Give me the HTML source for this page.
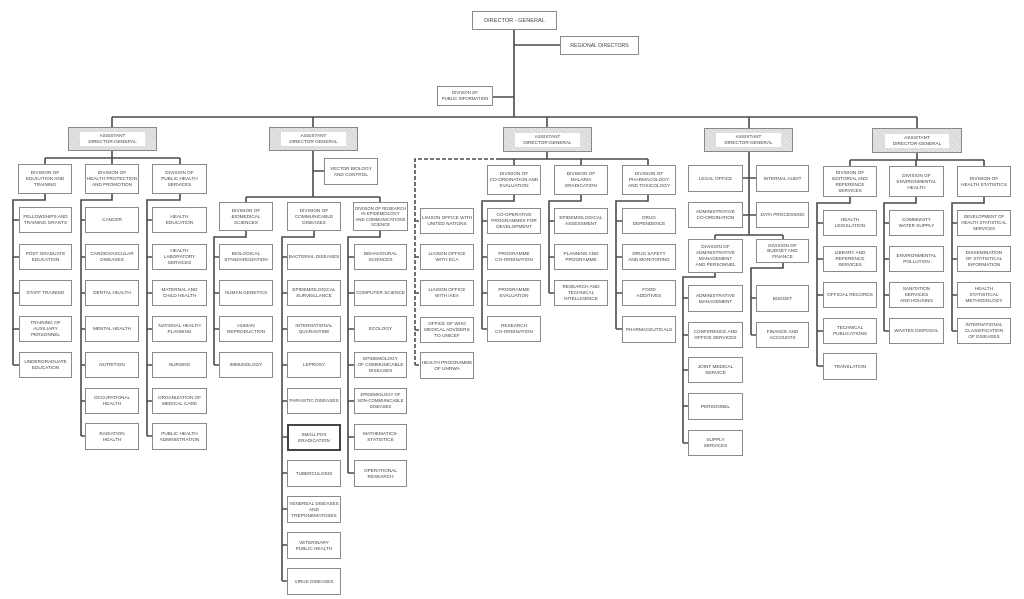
<!DOCTYPE html>
<html><head><meta charset="utf-8"><style>
html,body{margin:0;padding:0;background:#fff;width:1024px;height:599px;overflow:hidden;position:relative;font-family:"Liberation Sans",sans-serif;}
svg{position:absolute;left:0;top:0}
.b{position:absolute;box-sizing:border-box;border:1px solid #8a8a8a;background:#fff;display:flex;align-items:center;justify-content:center;text-align:center;font-size:4.7px;line-height:6px;color:#444;text-transform:uppercase;white-space:nowrap;padding:0}
.a{position:absolute;box-sizing:border-box;border:1px solid #888;display:flex;align-items:center;justify-content:center;background:repeating-linear-gradient(45deg,#cfcfcf 0 1px,#eeeeee 1px 2px)}
.a span{background:#fff;font-size:4.7px;line-height:6px;color:#444;text-align:center;padding:1px 8px;white-space:nowrap}
.k{border:2.5px solid #444}
</style></head><body>
<svg width="1024" height="599" fill="none" stroke="#4a4a4a" stroke-width="1.6">
<path d="M514 30V117M514 45H560M493 97H514M112 117H917"/>
<path d="M112 117V127M112 151V158M45 158H180M45 158V164M112 158V164M180 158V164"/>
<path d="M45 194V200H13V365M13 220H19M13 257H19M13 293H19M13 329H19M13 365H19"/>
<path d="M112 194V200H81V436M81 220H85M81 257H85M81 293H85M81 329H85M81 365H85M81 401H85M81 436H85"/>
<path d="M180 194V200H147V436M147 220H152M147 257H152M147 293H152M147 329H152M147 365H152M147 401H152M147 436H152"/>
<path d="M313 117V127M313 151V197M313 171H324M246 197H380M246 197V202M380 197V202"/>
<path d="M246 231V237H214V365M214 257H219M214 293H219M214 329H219M214 365H219"/>
<path d="M314 231V237H282V581M282 257H287M282 293H287M282 329H287M282 365H287M282 401H287M282 437H287M282 473H287M282 509H287M282 545H287M282 581H287"/>
<path d="M380 231V237H348V473M348 257H354M348 293H354M348 329H354M348 365H354M348 401H354M348 437H354M348 473H354"/>
<path d="M547 117V127M547 152V159M500 159H648M514 159V165M581 159V165M648 159V165"/>
<path stroke-dasharray="4,2" d="M500 159H415V365M415 221H420M415 257H420M415 293H420M415 330H420M415 365H420"/>
<path d="M514 195V201H482V329M482 221H487M482 257H487M482 293H487M482 329H487"/>
<path d="M581 195V201H549V293M549 221H554M549 257H554M549 293H554"/>
<path d="M648 195V201H616V329M616 221H622M616 257H622M616 293H622M616 329H622"/>
<path d="M749 117V128M749 152V235M743 178H756M743 215H756M715 235H783M715 235V239M783 235V239"/>
<path d="M715 273V277H683V443M683 298H688M683 335H688M683 370H688M683 406H688M683 443H688"/>
<path d="M783 263V268H751V335M751 298H756M751 335H756"/>
<path d="M917 117V128M917 153V160M850 160H984M850 160V166M916 160V166M984 160V166"/>
<path d="M850 197V203H817V366M817 223H823M817 259H823M817 295H823M817 331H823M817 366H823"/>
<path d="M916 197V203H884V331M884 223H889M884 259H889M884 295H889M884 331H889"/>
<path d="M984 197V203H952V331M952 223H957M952 259H957M952 295H957M952 331H957"/>
</svg>

<div class="b" style="left:472px;top:11px;width:85px;height:19px;font-size:5.6px">DIRECTOR - GENERAL</div>
<div class="b" style="left:560px;top:36px;width:79px;height:19px;font-size:5.2px">REGIONAL DIRECTORS</div>
<div class="b" style="left:437px;top:86px;width:56px;height:20px;font-size:4.3px">DIVISION OF<br>PUBLIC INFORMATION</div>

<div class="a" style="left:68px;top:127px;width:89px;height:24px"><span>ASSISTANT<br>DIRECTOR-GENERAL</span></div>
<div class="a" style="left:269px;top:127px;width:89px;height:24px"><span>ASSISTANT<br>DIRECTOR-GENERAL</span></div>
<div class="a" style="left:503px;top:127px;width:89px;height:25px"><span>ASSISTANT<br>DIRECTOR-GENERAL</span></div>
<div class="a" style="left:704px;top:128px;width:89px;height:24px"><span>ASSISTANT<br>DIRECTOR-GENERAL</span></div>
<div class="a" style="left:872px;top:128px;width:90px;height:25px"><span>ASSISTANT<br>DIRECTOR-GENERAL</span></div>

<div class="b" style="left:18px;top:164px;width:54px;height:30px">DIVISION OF<br>EDUCATION AND<br>TRAINING</div>
<div class="b" style="left:85px;top:164px;width:54px;height:30px">DIVISION OF<br>HEALTH PROTECTION<br>AND PROMOTION</div>
<div class="b" style="left:152px;top:164px;width:55px;height:30px">DIVISION OF<br>PUBLIC HEALTH<br>SERVICES</div>
<div class="b" style="left:19px;top:207px;width:53px;height:26px">FELLOWSHIPS AND<br>TRAINING GRANTS</div>
<div class="b" style="left:19px;top:244px;width:53px;height:26px">POST GRADUATE<br>EDUCATION</div>
<div class="b" style="left:19px;top:280px;width:53px;height:26px">STAFF TRAINING</div>
<div class="b" style="left:19px;top:316px;width:53px;height:26px">TRAINING OF<br>AUXILIARY<br>PERSONNEL</div>
<div class="b" style="left:19px;top:352px;width:53px;height:26px">UNDERGRADUATE<br>EDUCATION</div>
<div class="b" style="left:85px;top:207px;width:54px;height:26px">CANCER</div>
<div class="b" style="left:85px;top:244px;width:54px;height:26px">CARDIOVASCULAR<br>DISEASES</div>
<div class="b" style="left:85px;top:280px;width:54px;height:26px">DENTAL HEALTH</div>
<div class="b" style="left:85px;top:316px;width:54px;height:26px">MENTAL HEALTH</div>
<div class="b" style="left:85px;top:352px;width:54px;height:26px">NUTRITION</div>
<div class="b" style="left:85px;top:388px;width:54px;height:26px">OCCUPATIONAL<br>HEALTH</div>
<div class="b" style="left:85px;top:423px;width:54px;height:27px">RADIATION<br>HEALTH</div>
<div class="b" style="left:152px;top:207px;width:55px;height:26px">HEALTH<br>EDUCATION</div>
<div class="b" style="left:152px;top:244px;width:55px;height:26px">HEALTH<br>LABORATORY<br>SERVICES</div>
<div class="b" style="left:152px;top:280px;width:55px;height:26px">MATERNAL AND<br>CHILD HEALTH</div>
<div class="b" style="left:152px;top:316px;width:55px;height:26px">NATIONAL HEALTH<br>PLANNING</div>
<div class="b" style="left:152px;top:352px;width:55px;height:26px">NURSING</div>
<div class="b" style="left:152px;top:388px;width:55px;height:26px">ORGANIZATION OF<br>MEDICAL CARE</div>
<div class="b" style="left:152px;top:423px;width:55px;height:27px">PUBLIC HEALTH<br>ADMINISTRATION</div>

<div class="b" style="left:324px;top:158px;width:54px;height:27px">VECTOR BIOLOGY<br>AND CONTROL</div>
<div class="b" style="left:219px;top:202px;width:54px;height:29px">DIVISION OF<br>BIOMEDICAL<br>SCIENCES</div>
<div class="b" style="left:287px;top:202px;width:54px;height:29px">DIVISION OF<br>COMMUNICABLE<br>DISEASES</div>
<div class="b" style="left:353px;top:202px;width:55px;height:29px;font-size:4.3px;line-height:5.3px">DIVISION OF RESEARCH<br>IN EPIDEMIOLOGY<br>AND COMMUNICATIONS<br>SCIENCE</div>
<div class="b" style="left:219px;top:244px;width:54px;height:26px">BIOLOGICAL<br>STANDARDIZATION</div>
<div class="b" style="left:219px;top:280px;width:54px;height:26px">HUMAN GENETICS</div>
<div class="b" style="left:219px;top:316px;width:54px;height:26px">HUMAN<br>REPRODUCTION</div>
<div class="b" style="left:219px;top:352px;width:54px;height:26px">IMMUNOLOGY</div>
<div class="b" style="left:287px;top:244px;width:54px;height:26px">BACTERIAL DISEASES</div>
<div class="b" style="left:287px;top:280px;width:54px;height:26px">EPIDEMIOLOGICAL<br>SURVEILLANCE</div>
<div class="b" style="left:287px;top:316px;width:54px;height:26px">INTERNATIONAL<br>QUARANTINE</div>
<div class="b" style="left:287px;top:352px;width:54px;height:26px">LEPROSY</div>
<div class="b" style="left:287px;top:388px;width:54px;height:26px">PARASITIC DISEASES</div>
<div class="b k" style="left:287px;top:424px;width:54px;height:27px">SMALLPOX<br>ERADICATION</div>
<div class="b" style="left:287px;top:460px;width:54px;height:27px">TUBERCULOSIS</div>
<div class="b" style="left:287px;top:496px;width:54px;height:27px">VENEREAL DISEASES<br>AND<br>TREPONEMATOSES</div>
<div class="b" style="left:287px;top:532px;width:54px;height:27px">VETERINARY<br>PUBLIC HEALTH</div>
<div class="b" style="left:287px;top:568px;width:54px;height:27px">VIRUS DISEASES</div>
<div class="b" style="left:354px;top:244px;width:53px;height:26px">BEHAVIOURAL<br>SCIENCES</div>
<div class="b" style="left:354px;top:280px;width:53px;height:26px">COMPUTER SCIENCE</div>
<div class="b" style="left:354px;top:316px;width:53px;height:26px">ECOLOGY</div>
<div class="b" style="left:354px;top:352px;width:53px;height:26px">EPIDEMOLOGY<br>OF COMMUNICABLE<br>DISEASES</div>
<div class="b" style="left:354px;top:388px;width:53px;height:26px;font-size:4.3px">EPIDEMIOLOGY OF<br>NON-COMMUNICABLE<br>DISEASES</div>
<div class="b" style="left:354px;top:424px;width:53px;height:26px">MATHEMATICS-<br>STATISTICS</div>
<div class="b" style="left:354px;top:460px;width:53px;height:27px">OPERATIONAL<br>RESEARCH</div>

<div class="b" style="left:487px;top:165px;width:54px;height:30px">DIVISION OF<br>CO-ORDINATION AND<br>EVALUATION</div>
<div class="b" style="left:554px;top:165px;width:54px;height:30px">DIVISION OF<br>MALARIA<br>ERADICATION</div>
<div class="b" style="left:622px;top:165px;width:54px;height:30px">DIVISION OF<br>PHARMACOLOGY<br>AND TOXICOLOGY</div>
<div class="b" style="left:420px;top:208px;width:54px;height:26px">LIAISON OFFICE WITH<br>UNITED NATIONS</div>
<div class="b" style="left:420px;top:244px;width:54px;height:26px">LIAISON OFFICE<br>WITH ECA</div>
<div class="b" style="left:420px;top:280px;width:54px;height:26px">LIAISON OFFICE<br>WITH IAEA</div>
<div class="b" style="left:420px;top:317px;width:54px;height:26px">OFFICE OF WHO<br>MEDICAL ADVISERS<br>TO UNICEF</div>
<div class="b" style="left:420px;top:352px;width:54px;height:27px">HEALTH PROGRAMME<br>OF UNRWA</div>
<div class="b" style="left:487px;top:208px;width:54px;height:26px">CO-OPERATIVE<br>PROGRAMMES FOR<br>DEVELOPMENT</div>
<div class="b" style="left:487px;top:244px;width:54px;height:26px">PROGRAMME<br>CO-ORDINATION</div>
<div class="b" style="left:487px;top:280px;width:54px;height:26px">PROGRAMME<br>EVALUATION</div>
<div class="b" style="left:487px;top:316px;width:54px;height:26px">RESEARCH<br>CO-ORDINATION</div>
<div class="b" style="left:554px;top:208px;width:54px;height:26px">EPIDEMIOLOGICAL<br>ASSESSMENT</div>
<div class="b" style="left:554px;top:244px;width:54px;height:26px">PLANNING AND<br>PROGRAMME</div>
<div class="b" style="left:554px;top:280px;width:54px;height:26px">RESEARCH AND<br>TECHNICAL<br>INTELLIGENCE</div>
<div class="b" style="left:622px;top:208px;width:54px;height:26px">DRUG<br>DEPENDENCE</div>
<div class="b" style="left:622px;top:244px;width:54px;height:26px">DRUG SAFETY<br>AND MONITORING</div>
<div class="b" style="left:622px;top:280px;width:54px;height:26px">FOOD<br>ADDITIVES</div>
<div class="b" style="left:622px;top:316px;width:54px;height:27px">PHARMACEUTICALS</div>

<div class="b" style="left:688px;top:165px;width:55px;height:27px">LEGAL OFFICE</div>
<div class="b" style="left:756px;top:165px;width:53px;height:27px">INTERNAL AUDIT</div>
<div class="b" style="left:688px;top:202px;width:55px;height:26px">ADMINISTRATIVE<br>CO-ORDINATION</div>
<div class="b" style="left:756px;top:202px;width:53px;height:26px">DATA PROCESSING</div>
<div class="b" style="left:688px;top:239px;width:55px;height:34px">DIVISION OF<br>ADMINISTRATIVE<br>MANAGEMENT<br>AND PERSONNEL</div>
<div class="b" style="left:756px;top:239px;width:53px;height:24px;line-height:5.5px">DIVISION OF<br>BUDGET AND<br>FINANCE</div>
<div class="b" style="left:688px;top:285px;width:55px;height:27px">ADMINISTRATIVE<br>MANAGEMENT</div>
<div class="b" style="left:688px;top:322px;width:55px;height:26px">CONFERENCE AND<br>OFFICE SERVICES</div>
<div class="b" style="left:688px;top:357px;width:55px;height:26px">JOINT MEDICAL<br>SERVICE</div>
<div class="b" style="left:688px;top:393px;width:55px;height:27px">PERSONNEL</div>
<div class="b" style="left:688px;top:430px;width:55px;height:26px">SUPPLY<br>SERVICES</div>
<div class="b" style="left:756px;top:285px;width:53px;height:27px">BUDGET</div>
<div class="b" style="left:756px;top:322px;width:53px;height:26px">FINANCE AND<br>ACCOUNTS</div>

<div class="b" style="left:823px;top:166px;width:54px;height:31px">DIVISION OF<br>EDITORIAL AND<br>REFERENCE<br>SERVICES</div>
<div class="b" style="left:889px;top:166px;width:55px;height:31px">DIVISION OF<br>ENVIRONMENTAL<br>HEALTH</div>
<div class="b" style="left:957px;top:166px;width:54px;height:31px">DIVISION OF<br>HEALTH STATISTICS</div>
<div class="b" style="left:823px;top:210px;width:54px;height:26px">HEALTH<br>LEGISLATION</div>
<div class="b" style="left:823px;top:246px;width:54px;height:26px">LIBRARY AND<br>REFERENCE<br>SERVICES</div>
<div class="b" style="left:823px;top:282px;width:54px;height:26px">OFFICIAL RECORDS</div>
<div class="b" style="left:823px;top:318px;width:54px;height:26px">TECHNICAL<br>PUBLICATIONS</div>
<div class="b" style="left:823px;top:353px;width:54px;height:27px">TRANSLATION</div>
<div class="b" style="left:889px;top:210px;width:55px;height:26px">COMMUNITY<br>WATER SUPPLY</div>
<div class="b" style="left:889px;top:246px;width:55px;height:26px">ENVIRONMENTAL<br>POLLUTION</div>
<div class="b" style="left:889px;top:282px;width:55px;height:26px">SANITATION<br>SERVICES<br>AND HOUSING</div>
<div class="b" style="left:889px;top:318px;width:55px;height:26px">WASTES DISPOSAL</div>
<div class="b" style="left:957px;top:210px;width:54px;height:26px;font-size:4.4px">DEVELOPMENT OF<br>HEALTH STATISTICAL<br>SERVICES</div>
<div class="b" style="left:957px;top:246px;width:54px;height:26px">DISSEMINATION<br>OF STATISTICAL<br>INFORMATION</div>
<div class="b" style="left:957px;top:282px;width:54px;height:26px">HEALTH<br>STATISTICAL<br>METHODOLOGY</div>
<div class="b" style="left:957px;top:318px;width:54px;height:26px">INTERNATIONAL<br>CLASSIFICATION<br>OF DISEASES</div>
</body></html>
